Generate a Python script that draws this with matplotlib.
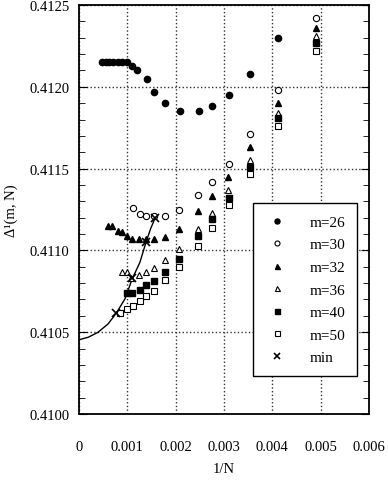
import matplotlib
matplotlib.use('Agg')
import matplotlib.pyplot as plt
from matplotlib.ticker import MultipleLocator

plt.rcParams['font.family'] = ['Liberation Serif', 'DejaVu Serif']
plt.rcParams['font.size'] = 10.5

# m=26
x26 = [0.00048, 0.00055, 0.00062, 0.00070, 0.00081, 0.00088, 0.00099, 0.00110, 0.00121,
       0.00140, 0.00156, 0.00177, 0.00208, 0.00248, 0.00276, 0.00310, 0.00354, 0.00411]
y26 = [0.41215, 0.41215, 0.41215, 0.41215, 0.41215, 0.41215, 0.41215, 0.41213, 0.41210,
       0.41205, 0.41197, 0.41190, 0.41185, 0.41185, 0.41188, 0.41195, 0.41208, 0.41230]
# m=30
x30 = [0.00111, 0.00126, 0.00139, 0.00156, 0.00177, 0.00207, 0.00247, 0.00276, 0.00310,
       0.00354, 0.00411, 0.00491]
y30 = [0.41126, 0.41122, 0.41121, 0.41121, 0.41121, 0.41125, 0.41134, 0.41142, 0.41153,
       0.41171, 0.41198, 0.41242]
# m=32
x32 = [0.00061, 0.00069, 0.00081, 0.00088, 0.00099, 0.00110, 0.00124, 0.00139, 0.00156,
       0.00177, 0.00207, 0.00247, 0.00276, 0.00309, 0.00354, 0.00411, 0.00491]
y32 = [0.41115, 0.41115, 0.41112, 0.41111, 0.41109, 0.41107, 0.41107, 0.41107, 0.41107,
       0.41108, 0.41113, 0.41124, 0.41133, 0.41145, 0.41163, 0.41190, 0.41236]
# m=36
x36 = [0.00090, 0.00099, 0.00108, 0.00124, 0.00139, 0.00156, 0.00177, 0.00207, 0.00247,
       0.00276, 0.00309, 0.00354, 0.00411, 0.00491]
y36 = [0.41087, 0.41087, 0.41083, 0.41085, 0.41087, 0.41089, 0.41094, 0.41101, 0.41113,
       0.41123, 0.41137, 0.41155, 0.41184, 0.41231]
# m=40
x40 = [0.00100, 0.00110, 0.00126, 0.00139, 0.00156, 0.00178, 0.00207, 0.00247, 0.00276,
       0.00310, 0.00354, 0.00411, 0.00491]
y40 = [0.41074, 0.41074, 0.41076, 0.41079, 0.41081, 0.41087, 0.41095, 0.41109, 0.41119,
       0.41132, 0.41151, 0.41181, 0.41227]
# m=50
x50 = [0.00084, 0.00099, 0.00111, 0.00126, 0.00139, 0.00156, 0.00177, 0.00207, 0.00247,
       0.00276, 0.00310, 0.00354, 0.00411, 0.00491]
y50 = [0.41062, 0.41064, 0.41066, 0.41069, 0.41072, 0.41075, 0.41082, 0.41090, 0.41103,
       0.41114, 0.41128, 0.41147, 0.41176, 0.41222]
# minima
xmin = [0.00077, 0.00110, 0.00139, 0.00158]
ymin = [0.41062, 0.41083, 0.41105, 0.41120]
# extrapolation curve
xcurve = [0.0, 0.00019, 0.00039, 0.00060, 0.00077, 0.00095, 0.00110, 0.00126, 0.00139,
          0.00148, 0.00158]
ycurve = [0.410454, 0.410469, 0.410499, 0.410550, 0.410616, 0.410703, 0.410825, 0.410927,
          0.411053, 0.411131, 0.411202]

fig = plt.figure(figsize=(3.88, 4.81), dpi=100)
ax = fig.add_axes([0.2036, 0.1372, 0.7474, 0.8503])

ax.plot(xcurve, ycurve, color='black', lw=1)
ms = 4.5
ax.plot(x26, y26, 'o', color='black', ms=ms, label='m=26')
ax.plot(x30, y30, 'o', mfc='white', mec='black', mew=0.8, ms=ms, label='m=30')
ax.plot(x32, y32, '^', color='black', ms=ms, label='m=32')
ax.plot(x36, y36, '^', mfc='white', mec='black', mew=0.8, ms=ms, label='m=36')
ax.plot(x40, y40, 's', color='black', ms=ms, label='m=40')
ax.plot(x50, y50, 's', mfc='white', mec='black', mew=0.8, ms=ms, label='m=50')
ax.plot(xmin, ymin, 'x', color='black', ms=6, mew=1.2, label='min')

ax.set_xlim(0, 0.006)
ax.set_ylim(0.4100, 0.4125)
ax.set_xticks([0, 0.001, 0.002, 0.003, 0.004, 0.005, 0.006])
ax.set_xticklabels(['0', '0.001', '0.002', '0.003', '0.004', '0.005', '0.006'])
ax.yaxis.set_major_locator(MultipleLocator(0.0005))
ax.yaxis.set_minor_locator(MultipleLocator(0.0001))
ax.yaxis.set_major_formatter(plt.FormatStrFormatter('%.4f'))
ax.tick_params(axis='y', which='both', direction='in', left=True, right=True, pad=7)
ax.tick_params(axis='y', which='major', length=6)
ax.tick_params(axis='y', which='minor', length=4)
ax.tick_params(axis='x', length=0, pad=19)
ax.grid(True, which='major', color='#333333', ls=':', lw=1)
for s in ax.spines.values():
    s.set_linewidth(1.3)

ax.set_xlabel('1/N', labelpad=6)
ax.set_ylabel('Δ¹(m, N)', labelpad=8)

leg = ax.legend(loc='upper left', bbox_to_anchor=(0.6, 0.516), borderaxespad=0,
                frameon=True, fancybox=False, edgecolor='black', borderpad=0.8,
                labelspacing=0.58, handlelength=1.5, handletextpad=1.4, markerscale=0.8,
                fontsize=11)
leg.get_frame().set_linewidth(1.0)
leg.get_frame().set_alpha(1)

fig.savefig('out.png', dpi=100)
